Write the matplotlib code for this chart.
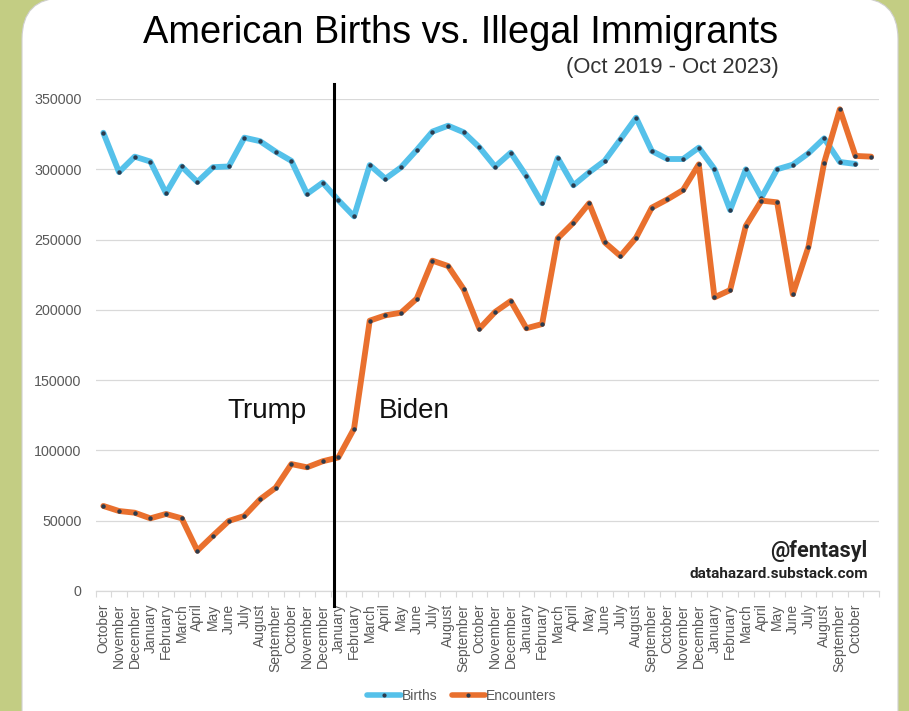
import matplotlib
matplotlib.use("Agg")
import matplotlib.pyplot as plt
from matplotlib.patches import FancyBboxPatch
from matplotlib.lines import Line2D
import matplotlib.transforms as mtransforms
import numpy as np

# ---------------- data ----------------
month_labels = ["October", "November", "December",
                "January", "February", "March", "April", "May", "June", "July", "August", "September",
                "October", "November", "December",
                "January", "February", "March", "April", "May", "June", "July", "August", "September",
                "October", "November", "December",
                "January", "February", "March", "April", "May", "June", "July", "August", "September",
                "October", "November", "December",
                "January", "February", "March", "April", "May", "June", "July", "August", "September",
                "October", ""]

births = [326000, 298000, 309000, 305500, 283000, 302000, 291000, 301500, 302000, 322500,
          320000, 312500, 306000, 282500, 290500, 278000, 266500, 303000, 293300, 301400,
          313700, 326800, 331000, 326300, 315600, 301900, 311800, 295200, 275800, 308000,
          288600, 297800, 306100, 321300, 336700, 313000, 307300, 307300, 315400, 300200,
          271000, 300000, 279800, 300000, 303300, 311400, 322000, 305200, 303800]

encounters = [60500, 56900, 55700, 51700, 54800, 51700, 28700, 39400, 49800, 53400,
              65200, 73500, 90300, 88000, 92300, 95000, 115500, 192300, 196100, 198000,
              208000, 235000, 231200, 214600, 186600, 198500, 206300, 186900, 189900, 250900,
              262000, 275800, 248000, 238300, 251400, 272700, 278600, 285300, 303500, 208900,
              214100, 259700, 277700, 276500, 211100, 245000, 304700, 342700, 309500, 309000]

y_ticks = [0, 50000, 100000, 150000, 200000, 250000, 300000, 350000]
transition_index = 14.7   # change of administration (between Dec 2020 and Jan 2021)

# ---------------- styling ----------------
BLUE = "#55C1EA"
ORANGE = "#E9702E"
MARK = "#2b3b4e"
GRAY = "#595959"
GRID = "#d9d9d9"

W, H = 909, 711
fig = plt.figure(figsize=(W / 100, H / 100), dpi=100)
fig.patch.set_facecolor("#c3cd83")

# white card
card = FancyBboxPatch((22 / W, -0.1), (898 - 22) / W, 1.1 + 2 / H,
                      boxstyle="round,pad=0,rounding_size=0.045",
                      transform=fig.transFigure, facecolor="white",
                      edgecolor="#d0d0d0", linewidth=0.8, zorder=-5,
                      mutation_aspect=W / H)
fig.patches.append(card)

left, right = 95.5 / W, 879 / W
bottom, top = 1 - 591 / H, 1 - 99 / H
ax = fig.add_axes([left, bottom, right - left, top - bottom])
ax.set_facecolor("none")
ax.set_zorder(1)

x_enc = np.arange(len(encounters))
x_b = np.arange(len(births))

ax.plot(x_b, births, color=BLUE, lw=4.2, solid_joinstyle="round", solid_capstyle="round",
        zorder=3, marker="o", ms=2.2, mfc=MARK, mec=MARK, label="Births")
ax.plot(x_enc, encounters, color=ORANGE, lw=4.2, solid_joinstyle="round",
        solid_capstyle="round", zorder=4,
        marker="o", ms=2.2, mfc=MARK, mec=MARK, label="Encounters")

ax.set_xlim(-0.5, len(month_labels) - 0.5)
ax.set_ylim(0, 350000)
ax.set_yticks(y_ticks)
ax.set_yticklabels([str(v) for v in y_ticks])
ax.set_xticks(np.arange(len(month_labels)))
ax.set_xticklabels(month_labels, rotation=90, fontsize=10, color=GRAY,
                   family="Liberation Sans")
ax.set_xticks(np.arange(len(month_labels) + 1) - 0.5, minor=True)
ax.tick_params(axis="x", which="major", length=0, pad=9)
ax.tick_params(axis="x", which="minor", length=4, color=GRID, width=0.8)
ax.tick_params(axis="y", length=0, pad=10, labelsize=10.3, labelcolor=GRAY)
for lab in ax.get_yticklabels():
    lab.set_family("Liberation Sans")

ax.grid(axis="y", color=GRID, lw=0.9, zorder=0)
ax.set_axisbelow(True)
for s in ["top", "right", "left"]:
    ax.spines[s].set_visible(False)
ax.spines["bottom"].set_color(GRID)
ax.spines["bottom"].set_linewidth(0.9)

# divider line
trans = mtransforms.blended_transform_factory(ax.transData, ax.transAxes)
ax.plot([transition_index, transition_index], [-0.031, 1.031], color="black", lw=2.2,
        transform=trans, clip_on=False, zorder=5)

ax.text(0.2185, 0.3516, "Trump", transform=ax.transAxes, ha="center", va="baseline",
        fontsize=20, family="Liberation Sans", color="#111111")
ax.text(0.4065, 0.3516, "Biden", transform=ax.transAxes, ha="center", va="baseline",
        fontsize=20, family="Liberation Sans", color="#111111")

ax.text(0.9855, 0.0697, "@fentasyl", transform=ax.transAxes, ha="right", va="baseline",
        fontsize=15.5, family="Roboto", weight="bold", color="#222222")
ax.text(0.9855, 0.0264, "datahazard.substack.com", transform=ax.transAxes, ha="right",
        va="baseline", fontsize=11, family="Roboto", weight="bold", color="#222222")

# titles
fig.text(461 / W, 1 - 33 / H, "American Births vs. Illegal Immigrants", ha="center",
         va="center", fontsize=27.4, family="Liberation Sans", color="black")
fig.text(779 / W, 1 - 68 / H, "(Oct 2019 - Oct 2023)", ha="right", va="center",
         fontsize=15.8, family="Liberation Sans", color="#333333")

# legend
handles = [Line2D([], [], color=BLUE, lw=4, marker="o", ms=2, mfc=MARK, mec=MARK,
                  solid_capstyle="round"),
           Line2D([], [], color=ORANGE, lw=4, marker="o", ms=2, mfc=MARK, mec=MARK,
                  solid_capstyle="round")]
leg = fig.legend(handles, ["Births", "Encounters"], loc="center",
                 bbox_to_anchor=(462 / W, 1 - 696 / H), ncol=2, frameon=False,
                 handlelength=2.4, handletextpad=0.1, columnspacing=1.0,
                 prop={"family": "Liberation Sans", "size": 10}, labelcolor=GRAY)

fig.savefig("out.png", dpi=100, facecolor=fig.get_facecolor())
